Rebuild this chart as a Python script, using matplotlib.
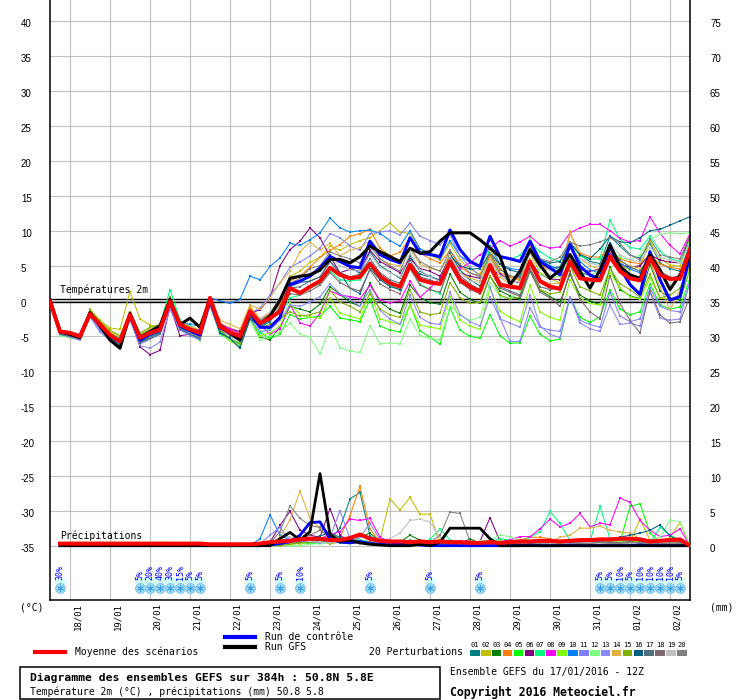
import matplotlib
matplotlib.use('Agg')
import matplotlib.pyplot as plt
from matplotlib.patches import Rectangle
from matplotlib.transforms import ScaledTranslation
import numpy as np

plt.rcParams['font.family'] = ['DejaVu Sans Mono']
plt.rcParams['axes.unicode_minus'] = False

# 6-hourly steps from 17/01/2016 12Z to 02/02 12Z (384h)
steps = np.arange(65)
psteps = np.arange(1, 65)
day_labels = ['18/01', '19/01', '20/01', '21/01', '22/01', '23/01', '24/01', '25/01',
              '26/01', '27/01', '28/01', '29/01', '30/01', '31/01', '01/02', '02/02']
day_pos = np.arange(2, 65, 4)

# ---- 2m temperature (degC) ----
t_mean = [-0.1, -4.4, -4.6, -5.1, -1.9, -3.4, -4.9, -5.8, -2.0, -5.3, -4.6, -4.1,
          -0.1, -3.4, -4.1, -4.6, 0.4, -3.7, -4.5, -5.1, -1.5, -3.2, -2.5, -1.5,
          1.8, 1.1, 2.0, 2.8, 4.7, 3.7, 3.2, 3.4, 5.3, 3.5, 2.5, 2.0, 5.1, 3.0, 2.6, 2.4,
          5.6, 3.0, 2.0, 1.3, 5.1, 2.3, 2.0, 1.8, 5.6, 2.8, 2.0, 1.7, 5.6, 3.2, 3.0, 2.9,
          6.3, 4.2, 3.2, 2.9, 6.1, 3.7, 3.1, 3.2, 7.3]
t_ctrl = [0.0, -4.5, -4.7, -5.0, -1.8, -3.5, -5.0, -5.9, -2.0, -5.6, -4.8, -4.2,
          0.0, -3.6, -4.3, -4.9, 0.2, -3.8, -4.6, -5.4, -1.8, -3.8, -3.8, -2.4,
          2.3, 2.8, 3.5, 4.7, 6.3, 5.6, 4.9, 4.7, 8.5, 6.6, 5.9, 5.4, 9.0, 6.8, 6.6, 6.3,
          10.1, 7.3, 5.6, 4.9, 9.2, 6.3, 6.0, 5.6, 8.5, 5.6, 4.7, 3.7, 8.0, 4.9, 3.7, 3.0,
          7.8, 4.7, 2.3, 0.9, 7.0, 3.0, 0.1, 0.6, 6.6]
t_gfs = [0.1, -4.4, -4.8, -5.3, -1.7, -3.6, -5.6, -6.8, -1.8, -5.2, -4.4, -3.6,
         0.2, -3.4, -2.5, -3.8, 0.2, -3.5, -4.6, -5.6, -1.6, -3.3, -2.2, 0.1,
         3.2, 3.5, 3.7, 4.4, 5.9, 5.9, 5.4, 6.3, 7.8, 7.0, 6.3, 5.6, 7.5, 6.8, 7.0, 8.5,
         9.7, 9.7, 9.7, 8.7, 7.5, 6.3, 2.3, 4.2, 7.3, 5.1, 3.2, 4.4, 6.6, 4.2, 1.8, 4.4,
         8.0, 4.9, 3.7, 3.2, 6.6, 4.4, 1.6, 3.7, 6.3]

t01 = [0.2, -4.8, -5.0, -5.3, -1.6, -3.8, -5.5, -6.4, -2.4, -6.0, -5.2, -4.5,
       0.3, -3.9, -4.6, -5.6, 0.2, -4.2, -5.5, -6.6, -2.2, -3.8, -3.0, -1.0,
       2.5, 2.8, 3.5, 4.2, 6.5, 5.6, 4.8, 3.9, 7.0, 5.0, 4.1, 3.2, 6.4, 4.2, 3.5, 2.8,
       6.8, 4.4, 3.0, 2.1, 6.6, 3.8, 2.7, 3.6, 7.9, 5.2, 4.6, 4.8, 8.4, 6.5, 5.6, 5.3,
       9.2, 7.8, 6.5, 6.1, 8.2, 5.4, 4.6, 4.2, 8.0]
t02 = [0.0, -4.6, -5.2, -5.4, -1.2, -2.8, -3.9, -4.1, 1.3, -2.6, -3.5, -3.8,
       0.5, -3.0, -3.6, -4.2, 0.6, -3.2, -3.9, -4.6, -0.8, -2.6, -2.0, -0.5,
       3.5, 4.2, 5.5, 6.2, 7.8, 7.2, 8.0, 8.6, 9.0, 10.0, 11.1, 9.8, 9.6, 7.4, 6.6, 5.8,
       8.2, 5.8, 4.5, 3.8, 7.4, 4.6, 3.5, 2.8, 6.8, 4.0, 3.2, 2.5, 6.2, 3.6, 2.9, 3.5,
       6.8, 5.1, 4.4, 4.9, 8.5, 6.0, 5.1, 4.9, 8.8]
t03 = [0.1, -4.2, -4.9, -5.0, -1.8, -3.6, -5.2, -6.1, -2.2, -5.9, -5.0, -4.6,
       -0.6, -3.9, -4.3, -5.0, -0.2, -4.5, -5.5, -6.3, -2.5, -5.2, -5.6, -3.8,
       -0.8, -1.2, -1.6, -0.5, 2.0, 0.9, -0.2, -0.8, 2.5, -0.2, -1.2, -1.8, 2.2, 0.5, -0.3, -0.5,
       3.8, 1.2, 0.2, -0.4, 3.5, 1.4, 0.7, 0.2, 4.2, 1.5, 0.6, -0.2, 3.8, 0.8, 0.0, -0.6,
       4.8, 1.6, 0.7, 0.3, 5.2, 1.4, 0.4, 0.1, 4.5]
t04 = [-0.2, -4.5, -4.8, -5.2, -2.1, -3.5, -5.0, -6.0, -2.3, -5.6, -4.8, -4.4,
       -0.3, -3.6, -4.5, -5.0, -0.1, -3.3, -4.2, -4.9, -1.0, -2.6, -1.8, -0.5,
       2.8, 3.5, 4.8, 6.2, 7.2, 8.0, 9.2, 9.6, 10.2, 7.5, 6.4, 6.9, 9.0, 6.8, 6.0, 5.4,
       7.2, 4.8, 3.9, 3.6, 6.4, 4.0, 3.4, 3.0, 7.9, 5.2, 4.4, 4.0, 9.6, 6.8, 6.3, 6.2,
       7.6, 6.0, 5.5, 5.3, 6.6, 5.2, 4.8, 4.5, 6.2]
t05 = [0.0, -4.3, -4.7, -5.0, -1.7, -3.3, -4.8, -5.7, -1.8, -5.5, -4.4, -3.8,
       -0.4, -3.2, -3.9, -4.9, -0.6, -4.8, -5.5, -6.0, -2.8, -4.5, -5.4, -4.8,
       -2.0, -2.6, -2.4, -2.2, -0.8, -2.5, -2.7, -3.0, 0.2, -3.6, -4.2, -4.5, -0.5, -4.3, -5.2, -6.2,
       -1.0, -4.2, -5.1, -5.4, -2.0, -5.0, -6.1, -6.0, -2.2, -4.8, -5.7, -5.5, 0.5, -2.4, -3.1, -2.3,
       1.6, -1.2, -2.0, -1.6, 2.4, -0.6, -1.2, -0.9, 3.2]
t06 = [0.3, -4.6, -4.9, -5.1, -2.0, -3.9, -5.6, -6.3, -2.5, -6.6, -7.7, -7.1,
       -0.8, -5.0, -4.8, -4.5, 0.2, -3.5, -4.0, -4.4, -1.8, -1.3, 0.4, 5.0,
       7.3, 8.5, 10.4, 9.0, 6.3, 4.0, 4.5, 4.2, 7.2, 5.6, 4.8, 4.0, 6.0, 4.6, 4.2, 3.5,
       6.2, 4.0, 3.5, 3.2, 4.4, 3.8, 3.0, 2.5, 5.6, 3.8, 3.1, 3.0, 5.5, 4.4, 4.2, 4.5,
       6.8, 5.2, 4.8, 5.0, 6.6, 5.8, 5.5, 5.4, 9.3]
t07 = [0.0, -4.5, -4.8, -5.2, -1.8, -3.2, -4.6, -5.3, -2.8, -4.9, -4.0, -3.5,
       1.6, -2.8, -3.6, -4.5, -0.2, -4.8, -5.6, -6.2, -2.4, -4.6, -4.0, -2.2,
       0.4, 0.8, 1.8, 2.4, 4.2, 3.0, 2.8, 3.0, 5.0, 3.2, 2.2, 1.5, 4.8, 2.4, 1.6, 1.0,
       5.2, 2.8, 1.8, 1.2, 7.8, 6.4, 5.9, 6.5, 8.3, 7.0, 6.1, 5.6, 8.2, 6.4, 5.9, 6.0,
       11.5, 8.8, 7.6, 7.4, 9.2, 7.1, 6.0, 5.6, 8.4]
t08 = [0.0, -4.4, -4.7, -5.0, -1.9, -3.2, -4.8, -5.5, -1.9, -5.1, -4.4, -4.0,
       -0.2, -3.4, -3.9, -4.2, 0.0, -3.3, -4.0, -4.7, -1.6, -3.4, -4.8, -4.0,
       -0.5, -3.2, -3.6, -1.8, 1.4, 0.8, 0.6, 0.3, 2.2, 0.1, -0.3, 0.0, 2.8, 0.5, 1.8, 3.2,
       5.5, 4.6, 5.4, 6.6, 7.4, 8.6, 7.8, 8.4, 9.2, 8.0, 7.5, 7.7, 9.7, 10.4, 10.9, 10.9,
       10.0, 8.9, 8.4, 8.6, 12.0, 9.6, 7.9, 6.7, 9.6]
t09 = [0.1, -4.3, -4.6, -4.9, -1.5, -3.0, -4.5, -5.2, -1.6, -5.0, -4.2, -3.7,
       0.1, -3.5, -4.2, -5.2, -0.4, -4.6, -5.8, -6.4, -2.6, -5.0, -4.6, -3.6,
       -0.4, -2.0, -2.4, -2.5, 0.4, -1.8, -2.2, -2.6, 1.2, -2.6, -3.0, -3.4, -0.6, -3.5, -3.8, -4.0,
       0.6, -2.8, -3.6, -4.1, 1.8, -1.5, -2.4, -3.0, 2.2, -1.6, -2.4, -2.8, 3.0, 0.4, -0.4, -0.6,
       4.0, 1.8, 0.6, 0.2, 3.2, 0.4, 0.2, 0.6, 4.4]
t10 = [0.0, -4.6, -5.0, -5.2, -2.0, -3.3, -4.9, -5.9, -1.9, -5.4, -4.7, -4.0,
       0.4, -3.0, -3.4, -3.6, 0.4, 0.0, -0.4, 0.2, 3.5, 3.0, 4.9, 6.1,
       8.2, 7.9, 8.7, 9.7, 11.8, 10.4, 9.8, 10.0, 10.1, 9.6, 8.6, 7.8, 10.0, 7.4, 6.8, 6.0,
       8.6, 6.4, 5.5, 5.0, 7.8, 5.2, 4.6, 4.4, 8.8, 6.0, 5.0, 4.4, 8.0, 5.6, 4.4, 4.0,
       8.3, 5.4, 4.5, 4.0, 6.9, 4.0, 3.2, 3.6, 7.8]
t11 = [0.2, -4.9, -5.3, -5.6, -2.2, -4.2, -5.8, -6.7, -2.6, -6.2, -5.5, -4.8,
       -0.5, -4.0, -4.6, -5.2, -0.3, -3.6, -4.5, -5.5, -1.9, -1.0, 0.8, 2.5,
       4.8, 5.5, 6.4, 7.5, 9.6, 9.0, 7.8, 7.2, 9.6, 9.8, 10.0, 9.4, 11.1, 9.2, 8.6, 8.0,
       9.4, 6.4, 4.8, 3.5, 2.0, -2.4, -5.8, -5.8, -1.0, -3.8, -4.2, -4.4, 0.6, -2.8, -3.4, -3.8,
       1.2, -2.2, -3.0, -2.6, 1.8, -0.8, -1.4, -1.6, 2.6]
t12 = [-0.2, -5.0, -5.3, -5.4, -2.2, -3.6, -5.1, -6.0, -2.1, -5.5, -4.9, -4.4,
       0.0, -3.5, -4.6, -5.8, 0.2, -4.6, -5.6, -6.4, -2.8, -5.6, -5.0, -4.4,
       -3.2, -4.8, -5.2, -7.6, -3.8, -6.7, -7.2, -7.4, -3.6, -6.2, -6.0, -6.2, -2.6, -5.0, -5.4, -5.6,
       -0.8, -2.0, -2.8, -2.4, 2.6, 0.6, 0.4, 1.4, 9.0, 3.8, 3.2, 3.5, 6.2, 4.2, 3.6, 4.4,
       7.4, 6.2, 5.8, 6.6, 8.8, 9.5, 9.7, 9.6, 9.7]
t13 = [0.1, -4.7, -5.2, -5.5, -2.3, -4.5, -5.6, -6.2, -2.8, -6.4, -6.8, -5.9,
       -1.2, -4.2, -5.0, -5.6, -0.8, -4.6, -5.4, -6.2, -2.6, -4.4, -4.2, -2.8,
       -0.6, -0.8, -0.2, 0.6, 2.4, 1.0, 0.2, -0.8, 1.6, -1.4, -2.6, -3.4, 0.8, -2.4, -3.2, -3.4,
       1.2, -2.0, -3.0, -3.6, 0.6, -2.6, -3.2, -3.8, 0.8, -3.6, -4.8, -5.3, 0.6, -3.2, -4.0, -4.4,
       -0.6, -3.4, -3.2, -3.6, 1.2, -2.5, -2.8, -2.6, 2.8]
t14 = [0.3, -4.4, -4.6, -5.0, -1.6, -3.0, -4.4, -5.2, -1.6, -4.8, -4.0, -3.6,
       0.2, -3.0, -3.7, -4.4, 0.5, -2.8, -3.4, -4.0, -0.6, -1.2, 0.4, 2.6,
       4.2, 7.0, 8.4, 7.2, 8.2, 6.4, 7.2, 7.6, 8.6, 6.0, 5.2, 5.0, 7.4, 5.2, 4.6, 4.3,
       6.5, 4.0, 3.2, 2.8, 6.2, 3.4, 2.4, 2.0, 5.9, 3.0, 2.4, 2.5, 9.9, 6.0, 5.0, 4.5,
       7.0, 5.6, 5.0, 4.6, 5.6, 2.0, -1.4, 1.6, 4.8]
t15 = [0.0, -4.3, -4.8, -5.1, -1.4, -2.9, -4.2, -5.0, -1.6, -4.6, -3.8, -3.4,
       0.6, -3.2, -4.0, -4.8, 0.0, -4.2, -5.4, -6.2, -2.4, -3.8, -3.4, -2.6,
       -1.6, -2.2, -2.0, -1.6, 1.5, -0.2, -0.8, -1.6, 1.0, -1.2, -2.0, -2.4, 1.6, -1.6, -2.0, -1.8,
       2.6, 0.4, -0.4, -0.2, 3.6, 0.8, 0.2, 0.5, 4.4, 1.6, 1.0, 1.2, 4.9, 2.0, 1.4, 0.8,
       4.6, 2.4, 1.6, 0.5, 3.8, 0.4, 0.8, 1.8, 5.2]
t16 = [0.0, -4.6, -5.0, -5.3, -2.2, -3.6, -5.4, -6.2, -2.4, -5.8, -5.2, -4.6,
       -0.4, -4.0, -4.8, -5.4, -0.4, -4.6, -5.4, -6.8, -2.6, -3.6, -2.8, -1.2,
       2.0, 2.6, 2.8, 3.4, 5.6, 4.0, 1.8, 1.0, 4.6, 3.0, 2.0, 1.6, 5.2, 3.8, 3.4, 3.0,
       6.4, 5.0, 4.5, 4.6, 6.8, 5.2, 4.4, 4.0, 7.0, 5.8, 5.4, 5.6, 8.2, 6.6, 6.0, 7.4,
       9.2, 8.4, 8.3, 9.0, 10.0, 10.2, 10.8, 11.4, 12.0]
t17 = [-0.2, -4.8, -5.1, -5.4, -2.0, -3.7, -5.4, -6.5, -2.3, -6.0, -5.4, -4.8,
       -0.4, -4.0, -4.8, -5.4, -0.2, -4.0, -5.0, -5.8, -2.0, -3.4, -2.8, -1.0,
       1.8, 2.0, 2.8, 3.4, 5.6, 4.0, 3.4, 3.8, 6.0, 4.0, 3.0, 2.5, 5.8, 3.4, 3.0, 2.4,
       6.2, 3.6, 2.4, 1.6, 5.0, 2.0, 1.4, 0.8, 4.6, 2.0, 1.6, 1.8, 5.8, 4.0, 3.6, 3.2,
       7.4, 5.8, 4.8, 4.2, 6.4, 4.2, 3.4, 3.0, 6.8]
t18 = [0.2, -4.5, -4.9, -5.2, -1.8, -3.5, -5.1, -6.0, -2.1, -5.4, -4.7, -4.2,
       -0.3, -3.6, -4.4, -5.0, 0.1, -3.9, -4.8, -5.6, -1.8, -3.3, -2.6, -1.8,
       1.0, 0.8, 1.4, 2.2, 4.0, 2.6, 1.8, 1.4, 4.4, 2.4, 1.6, 1.0, 4.6, 2.2, 1.6, 1.2,
       5.0, 2.6, 1.6, 1.0, 4.4, 1.8, 1.2, 0.6, 4.4, 1.2, 0.4, -0.8, 4.2, 0.2, -1.6, -2.6,
       3.6, -0.4, -2.8, -4.6, 1.4, -2.0, -3.2, -3.0, 0.6]
t19 = [0.1, -4.5, -4.8, -5.1, -1.9, -3.5, -5.0, -5.8, -2.0, -5.3, -4.5, -4.1,
       -0.1, -3.5, -4.2, -4.8, 0.3, -3.6, -4.4, -5.0, -1.4, -2.6, -1.6, 0.4,
       3.0, 2.6, 3.6, 4.4, 6.2, 5.0, 4.4, 4.2, 6.6, 4.8, 4.0, 3.4, 6.8, 4.4, 3.4, 2.8,
       6.4, 4.0, 2.8, 2.6, 5.8, 3.6, 3.0, 2.6, 6.8, 4.6, 4.4, 4.2, 7.8, 6.0, 5.4, 5.0,
       8.0, 6.6, 5.8, 5.6, 7.6, 6.2, 5.8, 5.4, 8.2]
t20 = [0.0, -4.4, -4.7, -5.1, -2.0, -3.4, -5.0, -6.2, -2.2, -5.6, -5.2, -4.4,
       -0.2, -3.8, -4.4, -5.2, 0.2, -3.6, -4.5, -5.4, -1.6, -2.8, -2.0, -0.8,
       2.4, 3.2, 4.6, 5.0, 7.0, 6.4, 6.0, 5.4, 7.8, 6.0, 5.0, 4.2, 7.6, 5.6, 4.8, 4.2,
       7.2, 5.2, 4.0, 3.4, 6.8, 4.4, 3.6, 3.2, 7.6, 6.0, 5.6, 6.2, 8.4, 7.8, 8.0, 8.4,
       9.0, 8.2, 6.6, 5.8, 8.8, 6.6, 6.2, 6.0, 9.4]

# ---- 6h precipitation (mm), steps 1..64 ----
p_mean = [0.3, 0.3, 0.3, 0.3, 0.3, 0.3, 0.3, 0.3, 0.3, 0.3, 0.3, 0.3, 0.3, 0.3, 0.3, 0.2,
          0.2, 0.2, 0.2, 0.2, 0.3, 0.5, 0.6, 0.7, 0.9, 1.0, 1.0, 0.8, 0.8, 1.1, 1.6, 1.0,
          0.7, 0.6, 0.6, 0.5, 0.6, 0.5, 0.6, 0.5, 0.5, 0.4, 0.4, 0.5, 0.4, 0.5, 0.6, 0.6,
          0.7, 0.7, 0.6, 0.7, 0.8, 0.8, 0.9, 0.9, 1.0, 1.0, 0.9, 0.6, 0.7, 0.8, 0.9, 0.0]
p_ctrl = [0, 0, 0, 0, 0, 0, 0, 0, 0, 0, 0, 0, 0, 0, 0, 0,
          0, 0, 0, 0, 0, 0.1, 0.3, 0.6, 1.5, 3.3, 3.4, 1.0, 0.5, 0.4, 0.6, 0.3,
          0.2, 0.1, 0.3, 0.2, 0.1, 0, 0, 0, 0, 0, 0, 0, 0, 0, 0, 0.1,
          0, 0, 0, 0.1, 0, 0, 0, 0, 0, 0, 0.1, 0, 0, 0, 0, 0]
p_gfs = [0, 0, 0, 0, 0, 0, 0, 0, 0, 0, 0, 0, 0, 0, 0, 0,
         0, 0, 0, 0, 0, 0, 1.0, 1.9, 0.8, 2.0, 10.3, 1.6, 0.6, 0.8, 0.4, 0.2,
         0.1, 0, 0, 0, 0.2, 0, 0.5, 2.5, 2.5, 2.5, 2.5, 1.0, 0, 0, 0, 0,
         0, 0, 0, 0, 0, 0, 0, 0, 0, 0, 0, 0, 0, 0, 0, 0]

p01 = [0, 0.1, 0, 0, 0, 0.2, 0.1, 0, 0.2, 0, 0.1, 0, 0, 0, 0, 0,
       0, 0, 0, 0, 0.2, 0.4, 0.8, 0.5, 0.6, 0.3, 1.2, 0.8, 2.5, 6.7, 7.6, 1.4,
       0.5, 0.2, 0.3, 0.1, 0.2, 0.4, 0.3, 0.2, 0.1, 0, 0, 0.2, 0.1, 0.6, 0.5, 0.3,
       0.4, 0.2, 0.1, 0.3, 0.5, 0.2, 0.3, 0.4, 0.6, 0.8, 1.0, 0.4, 0.6, 0.3, 0.2, 0]
p02 = [0, 0, 0, 0, 0.1, 0, 0, 0, 0, 0, 0, 0, 0, 0, 0, 0,
       0, 0, 0, 0, 0, 0.2, 0.3, 0.5, 0.4, 0.6, 0.8, 0.5, 1.0, 0.8, 0.6, 0.4,
       0.8, 6.7, 5.1, 6.9, 4.5, 4.5, 0.3, 0.2, 0.1, 0.2, 0, 0, 0.1, 0.2, 0.3, 0.2,
       0.4, 0.6, 0.3, 0.5, 0.8, 0.4, 0.5, 0.6, 0.8, 0.5, 3.8, 0.8, 0.5, 1.2, 3.3, 0]
p03 = [0, 0, 0, 0, 0, 0, 0.2, 0, 0, 0, 0.3, 0, 0, 0, 0, 0,
       0, 0, 0, 0, 0, 0, 0.3, 0.4, 0.6, 0.5, 0.9, 0.7, 0.8, 0.5, 1.2, 1.8,
       0.6, 0.4, 0.5, 1.5, 0.8, 0.4, 0.3, 0.2, 0.2, 1.0, 0.3, 0.1, 0, 0, 0.2, 0.3,
       0.2, 0.1, 0, 0.2, 0.5, 0.8, 0.6, 0.4, 0.3, 0.5, 0.9, 0.4, 0.2, 0.4, 0.5, 0]
p04 = [0, 0, 0, 0, 0, 0, 0, 0, 0, 0.2, 0, 0, 0, 0, 0, 0,
       0, 0, 0, 0, 0, 0.1, 0.4, 0.6, 0.5, 0.8, 0.6, 0.4, 1.2, 4.3, 8.5, 2.4,
       0.5, 0.3, 0.2, 0.4, 0.6, 0.3, 0.5, 0.4, 0.3, 0.2, 0.1, 0, 0.3, 0.5, 0.8, 1.2,
       1.2, 1.0, 0.6, 0.5, 0.8, 0.6, 0.4, 0.3, 0.5, 0.6, 0.4, 0.3, 0.5, 0.4, 0.6, 0]
p05 = [0, 0, 0, 0, 0, 0.2, 0, 0, 0, 0, 0, 0.4, 0, 0, 0, 0,
       0, 0, 0, 0, 0, 0, 0.2, 0.3, 0.5, 0.3, 0.4, 0.6, 0.4, 0.3, 0.5, 0.4,
       0.3, 0.2, 0.2, 0.1, 0.3, 0.2, 0.5, 0.4, 0.2, 0.1, 0.2, 0.4, 0.5, 0.8, 0.6, 0.5,
       0.6, 0.4, 0.3, 0.5, 0.4, 0.8, 1.0, 0.3, 0.5, 5.6, 6.0, 1.8, 0.5, 0.4, 0.3, 0]
p06 = [0, 0, 0, 0, 0, 0, 0, 0, 0, 0, 0, 0, 0, 0, 0, 0,
       0, 0, 0, 0, 0, 0.5, 2.9, 4.9, 2.2, 1.5, 1.2, 5.3, 1.5, 0.6, 0.4, 0.3,
       0.5, 0.4, 0.3, 0.2, 0.4, 0.3, 0.2, 0.3, 0.5, 0.4, 0.6, 4.0, 0.6, 0.3, 0.2, 0.1,
       0.2, 0.3, 0.2, 0.1, 0.3, 0.2, 0.4, 0.3, 0.2, 0.4, 0.3, 0.2, 0.3, 0.2, 0.4, 0]
p07 = [0, 0, 0, 0, 0, 0, 0, 0.2, 0, 0, 0.3, 0.1, 0, 0, 0, 0,
       0, 0, 0, 0, 0, 0, 0.2, 0.4, 0.3, 0.6, 0.8, 0.5, 0.7, 1.0, 0.8, 0.6,
       0.4, 0.3, 0.6, 0.8, 0.4, 0.9, 2.4, 0.8, 0.5, 0.3, 0.2, 0.6, 1.0, 0.8, 0.5, 1.2,
       2.0, 4.9, 3.2, 0.7, 0.5, 0.6, 5.6, 1.0, 0.8, 0.5, 0.6, 0.4, 2.6, 1.5, 0.8, 0]
p08 = [0, 0, 0, 0, 0, 0, 0, 0, 0, 0, 0, 0, 0, 0, 0, 0.2,
       0, 0, 0, 0, 0, 0, 0.1, 0.3, 0.4, 0.8, 1.0, 1.6, 2.0, 3.8, 3.6, 3.9,
       1.2, 0.6, 0.4, 0.3, 0.5, 0.3, 0.4, 0.5, 0.6, 0.7, 0.4, 0.5, 0.6, 0.8, 1.3, 1.3,
       2.4, 3.8, 2.7, 3.2, 4.6, 2.7, 3.2, 3.0, 6.8, 6.2, 3.6, 2.2, 1.3, 1.5, 2.4, 0]
p09 = [0, 0, 0, 0, 0, 0, 0, 0, 0, 0.3, 0.5, 0.2, 0, 0, 0, 0,
       0, 0, 0, 0, 0, 0, 0, 0.2, 0.3, 0.5, 0.4, 0.6, 0.8, 0.5, 0.3, 0.6,
       0.4, 0.2, 0.3, 0.2, 0.1, 0.3, 0.8, 0.6, 0.4, 0.3, 0.5, 0.8, 0.6, 0.4, 0.3, 0.5,
       0.6, 0.8, 0.5, 0.4, 0.6, 0.3, 0.5, 0.8, 1.0, 0.7, 0.5, 0.6, 0.8, 0.5, 0.4, 0]
p10 = [0, 0, 0, 0, 0, 0, 0, 0, 0, 0, 0, 0, 0, 0, 0, 0,
       0, 0, 0, 0, 1.0, 4.4, 1.5, 0.8, 0.6, 0.5, 0.4, 0.8, 0.6, 0.5, 0.4, 0.3,
       0.2, 0.3, 0.2, 0.1, 0.2, 0.3, 0.2, 0.1, 0, 0, 0, 0.1, 0.2, 0, 0, 0,
       0, 0.1, 0, 0, 0, 0, 0.2, 0.1, 0, 0.2, 0.1, 0, 0, 0.1, 0, 0]
p11 = [0, 0, 0, 0, 0, 0, 0, 0, 0, 0, 0, 0, 0, 0, 0, 0,
       0, 0, 0, 0, 0.3, 1.5, 2.6, 0.8, 0.6, 0.4, 0.8, 1.2, 5.0, 1.0, 0.6, 0.5,
       0.4, 0.3, 0.2, 0.4, 0.3, 0.2, 0.3, 0.2, 0.1, 0.2, 0.3, 0.2, 0.1, 0.2, 0.1, 0.3,
       0.2, 0.4, 0.3, 0.2, 0.5, 0.3, 0.2, 0.4, 0.3, 0.2, 0.4, 0.2, 0.3, 0.4, 0.2, 0]
p12 = [0, 0, 0, 0, 0, 0, 0, 0, 0, 0, 0, 0.3, 0, 0, 0, 0,
       0, 0, 0, 0, 0, 0, 0, 0, 0, 0.2, 0.3, 0.4, 0.5, 0.3, 0.6, 0.5,
       0.3, 0.4, 0.6, 0.5, 0.3, 0.2, 0.6, 0.4, 0.3, 0.5, 0.6, 0.8, 1.5, 1.3, 0.6, 0.5,
       0.4, 0.6, 0.5, 0.3, 0.4, 0.6, 0.5, 0.8, 0.6, 0.8, 1.0, 0.7, 1.2, 3.7, 3.4, 0]
p13 = [0, 0, 0, 0, 0, 0, 0, 0, 0, 0, 0, 0, 0, 0, 0, 0,
       0, 0, 0, 0, 0, 0.3, 0.6, 0.5, 0.8, 0.6, 0.4, 0.5, 0.8, 0.6, 1.2, 3.2,
       0.8, 0.5, 0.4, 0.6, 0.3, 0.5, 0.4, 0.6, 0.3, 0.2, 0.2, 0.3, 0.2, 0.3, 0.5, 0.4,
       0.6, 0.3, 0.2, 0.4, 0.3, 0.5, 0.3, 0.2, 0.3, 0.2, 0.4, 0.3, 0.2, 0.3, 0.2, 0]
p14 = [0, 0, 0, 0, 0, 0, 0, 0, 0, 0, 0, 0, 0, 0, 0, 0,
       0, 0, 0, 0, 0, 0.4, 1.2, 3.7, 7.8, 3.9, 2.4, 0.8, 0.6, 0.5, 0.3, 0.4,
       0.2, 0.3, 0.5, 0.4, 0.2, 0.3, 0.2, 0.1, 0.2, 0.3, 0.2, 0.4, 0.5, 0.6, 0.4, 0.5,
       0.8, 0.6, 1.2, 1.5, 2.5, 2.5, 2.8, 2.2, 2.0, 1.8, 1.0, 0.6, 0.4, 0.5, 0.3, 0]
p15 = [0, 0, 0, 0, 0, 0, 0, 0, 0, 0, 0, 0, 0.4, 0, 0, 0,
       0, 0, 0, 0, 0, 0, 0, 0.2, 0.4, 0.5, 0.6, 0.3, 0.5, 0.7, 0.5, 0.4,
       0.2, 0.3, 0.4, 0.3, 0.6, 0.4, 0.3, 0.2, 0.3, 0.2, 0.1, 0.3, 0.2, 0.4, 0.5, 0.3,
       0.4, 0.5, 0.3, 0.6, 0.4, 0.5, 0.8, 0.6, 0.4, 0.6, 0.8, 0.5, 0.7, 0.6, 0.5, 0]
p16 = [0, 0, 0, 0, 0, 0, 0, 0, 0, 0, 0, 0, 0, 0, 0, 0,
       0, 0, 0, 0, 0, 0, 0.2, 0.5, 0.8, 1.0, 1.4, 1.8, 1.2, 0.6, 0.4, 0.3,
       0.2, 0.3, 0.2, 0.1, 0.2, 0.3, 0.4, 0.2, 0.1, 0.2, 0.1, 0.3, 0.2, 0.4, 0.5, 0.6,
       0.8, 0.5, 0.6, 0.4, 0.5, 0.7, 0.6, 0.8, 1.2, 1.5, 1.8, 2.2, 3.0, 1.4, 0.6, 0]
p17 = [0, 0, 0, 0, 0, 0, 0, 0, 0, 0, 0, 0, 0, 0, 0, 0,
       0, 0, 0, 0, 0, 0, 0.3, 0.6, 1.2, 0.8, 0.6, 1.5, 0.9, 0.5, 0.6, 0.4,
       0.3, 0.2, 0.4, 0.3, 0.2, 0.4, 0.3, 0.2, 0.3, 0.2, 0.1, 0.2, 0.3, 0.2, 0.4, 0.3,
       0.2, 0.4, 0.6, 0.3, 0.4, 0.5, 0.3, 0.2, 0.4, 0.3, 0.5, 0.4, 0.3, 0.2, 0.4, 0]
p18 = [0, 0, 0, 0, 0, 0, 0, 0, 0, 0, 0, 0, 0, 0, 0, 0,
       0, 0, 0, 0, 0, 0.2, 0.4, 0.8, 1.0, 1.5, 2.2, 1.2, 0.8, 0.6, 0.4, 0.3,
       0.2, 0.3, 0.4, 0.2, 0.3, 0.2, 0.4, 0.3, 0.2, 0.1, 0.3, 0.2, 0.4, 0.3, 0.2, 0.4,
       0.5, 0.3, 0.4, 0.5, 0.6, 0.4, 0.3, 0.5, 0.4, 0.6, 0.3, 0.4, 0.5, 0.6, 0.4, 0]
p19 = [0, 0, 0, 0, 0, 0, 0, 0, 0, 0, 0, 0, 0, 0, 0, 0,
       0, 0, 0, 0, 0, 0.5, 2.0, 1.2, 0.8, 0.6, 0.5, 0.4, 0.6, 0.5, 0.4, 0.6,
       0.8, 1.0, 1.8, 3.6, 3.8, 3.4, 1.2, 0.5, 0.3, 0.2, 0.3, 0.2, 0.1, 0.3, 0.2, 0.4,
       0.3, 0.2, 0.4, 0.3, 0.5, 0.4, 0.3, 0.2, 0.3, 0.4, 0.2, 0.3, 0.5, 0.4, 0.3, 0]
p20 = [0, 0, 0, 0, 0, 0, 0, 0, 0, 0, 0, 0, 0, 0, 0, 0,
       0, 0, 0, 0, 0, 0.4, 2.0, 5.7, 3.9, 2.9, 2.6, 1.8, 1.0, 0.7, 0.5, 0.6,
       0.4, 0.6, 0.5, 0.8, 0.6, 0.5, 1.5, 4.8, 4.6, 0.6, 0.4, 0.3, 0.2, 0.4, 0.3, 0.2,
       0.4, 0.5, 0.3, 0.6, 0.4, 0.3, 0.5, 0.4, 0.3, 0.5, 0.4, 0.3, 0.2, 0.4, 0.3, 0]

members_t = [t01, t02, t03, t04, t05, t06, t07, t08, t09, t10,
             t11, t12, t13, t14, t15, t16, t17, t18, t19, t20]
members_p = [p01, p02, p03, p04, p05, p06, p07, p08, p09, p10,
             p11, p12, p13, p14, p15, p16, p17, p18, p19, p20]
member_colors = ['#008080', '#c0c000', '#008000', '#ff8000', '#00ff00',
                 '#800080', '#00ff80', '#ff00ff', '#80ff00', '#0080ff',
                 '#8080ff', '#80ff80', '#8888f8', '#e0b040', '#80b000',
                 '#006080', '#507080', '#806870', '#c0c0c0', '#808080']

# snow probability icons
snow_step = [1, 9, 10, 11, 12, 13, 14, 15, 20, 23, 25, 32, 38, 43,
             55, 56, 57, 58, 59, 60, 61, 62, 63]
snow_pct = [30, 5, 20, 40, 30, 15, 5, 5, 5, 5, 10, 5, 5, 5,
            5, 5, 10, 5, 10, 10, 10, 10, 5]

W, H = 740, 700
fig = plt.figure(figsize=(W / 100, H / 100), dpi=100)
ax = fig.add_axes([50 / W, 100 / H, 640 / W, 600 / H])
ax.set_xlim(0, 64)
ax.set_ylim(-42.76, 42.96)

ax.set_yticks(np.arange(-35, 41, 5))
ax.set_xticks(day_pos)
ax.set_xticklabels(day_labels, rotation=90, fontsize=6.5)
ax.grid(True, color='#c0c0c0', lw=0.8)
ax.set_axisbelow(True)
ax.tick_params(axis='both', length=0)
ax.tick_params(axis='x', pad=2.2)
ax.tick_params(axis='y', pad=20.9, labelsize=7)
px = fig.dpi_scale_trans
for lab in ax.get_xticklabels():
    lab.set_transform(lab.get_transform() + ScaledTranslation(7.5 / 100, 0, px))
for lab in ax.get_yticklabels():
    lab.set_horizontalalignment('left')
    lab.set_fontfamily('Liberation Sans')
    lab.set_transform(lab.get_transform() + ScaledTranslation(0, -2.5 / 100, px))
for s in ['left', 'right', 'bottom']:
    ax.spines[s].set_linewidth(1.1)
ax.spines['top'].set_visible(False)

ax2 = ax.twinx()
ax2.set_ylim(-42.76 + 35, 42.96 + 35)
ax2.set_yticks(np.arange(0, 76, 5))
ax2.tick_params(axis='y', length=0, pad=14.4, labelsize=7)
for lab in ax2.get_yticklabels():
    lab.set_fontfamily('Liberation Sans')
    lab.set_transform(lab.get_transform() + ScaledTranslation(0, -2.5 / 100, px))
for s in ax2.spines.values():
    s.set_visible(False)

# 0 degC reference (double line)
ax.axhline(0.29, color='black', lw=1.0, zorder=1.5)
ax.axhline(-0.14, color='black', lw=1.0, zorder=1.5)
ax.text(1, 0.75, 'Températures 2m', fontsize=7, va='bottom', ha='left')
ax.text(1, -34.3, 'Précipitations', fontsize=7, va='bottom', ha='left')

# members
for tv, pv, c in zip(members_t, members_p, member_colors):
    ax.plot(steps, tv, color=c, lw=0.75, marker='s', ms=1.6, mew=0, zorder=2)
    ax2.plot(psteps, pv, color=c, lw=0.75, marker='s', ms=1.6, mew=0, zorder=2)

ax.plot(steps, t_ctrl, color='#0000ff', lw=2.2, zorder=3)
ax.plot(steps, t_gfs, color='black', lw=2.2, zorder=3)
ax.plot(steps, t_mean, color='#ff0000', lw=2.9, zorder=4)
ax2.plot(psteps, p_ctrl, color='#0000ff', lw=2.0, zorder=3)
ax2.plot(psteps, p_gfs, color='black', lw=2.0, zorder=3)
ax2.plot(psteps, p_mean, color='#ff0000', lw=2.9, zorder=4)

# snowflake probabilities
for st, pc in zip(snow_step, snow_pct):
    ax.add_patch(Rectangle((st - 0.5, -40.45), 1.0, 0.8, fc='#d4ffff', ec='none', zorder=2))
    ax.text(st, -39.9, f'{pc}%', rotation=90, color='#0000ff', fontsize=6,
            ha='center', va='bottom', zorder=3)
ax.scatter(snow_step, [-41.05] * len(snow_step), s=50, marker='o',
           fc='#a8dcf8', ec='#6cc0ec', lw=0.6, zorder=3, clip_on=False)
ax.scatter(snow_step, [-41.05] * len(snow_step), s=22, marker=(6, 2, 0),
           color='#3d9fe6', lw=0.6, zorder=4, clip_on=False)

# ---- bottom panel (pixel coordinates) ----
lay = fig.add_axes([0, 0, 1, 1], facecolor='none')
lay.set_xlim(0, W)
lay.set_ylim(H, 0)
lay.axis('off')

lay.text(20, 607, '(°C)', fontsize=7, va='center', ha='left')
lay.text(710, 607, '(mm)', fontsize=7, va='center', ha='left')

lay.plot([35, 65], [652, 652], color='#ff0000', lw=3)
lay.text(75, 652, 'Moyenne des scénarios', fontsize=7, va='center')
lay.plot([225, 255], [637, 637], color='#0000ff', lw=3)
lay.text(265, 637, 'Run de contrôle', fontsize=7, va='center')
lay.plot([225, 255], [647, 647], color='black', lw=3)
lay.text(265, 647, 'Run GFS', fontsize=7, va='center')
lay.text(369, 652, '20 Perturbations', fontsize=7, va='center')
for k, c in enumerate(member_colors):
    x0 = 470 + k * 10.9
    lay.add_patch(Rectangle((x0, 650), 9.6, 6, fc=c, ec='none'))
    lay.text(x0 + 4.8, 645, f'{k + 1:02d}', fontsize=5, ha='center', va='center')

lay.add_patch(Rectangle((20, 667), 420, 32, fc='none', ec='black', lw=1.1))
lay.text(30, 677.5, 'Diagramme des ensembles GEFS sur 384h : 50.8N 5.8E',
         fontsize=8.2, fontweight='bold', va='center')
lay.text(30, 691.5, 'Température 2m (°C) , précipitations (mm) 50.8 5.8',
         fontsize=7, va='center')
lay.text(450, 672, 'Ensemble GEFS du 17/01/2016 - 12Z', fontsize=7, va='center')
lay.text(450, 692, 'Copyright 2016 Meteociel.fr', fontsize=8.3, fontweight='bold', va='center')

fig.savefig('out.png', dpi=100)
